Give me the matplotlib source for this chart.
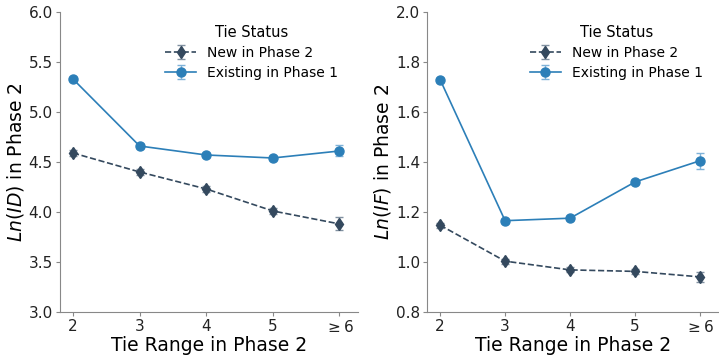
import matplotlib.pyplot as plt
import numpy as np

# tie range categories
tie_range = ['2', '3', '4', '5', r'$\geq6$']

# Ln(ID) panel
id_new = [4.59, 4.40, 4.23, 4.01, 3.88]
id_new_err = [0.03, 0.03, 0.03, 0.03, 0.065]
id_exist = [5.33, 4.66, 4.57, 4.54, 4.61]
id_exist_err = [0.02, 0.02, 0.02, 0.02, 0.055]

# Ln(IF) panel
if_new = [1.147, 1.003, 0.968, 0.962, 0.940]
if_new_err = [0.01, 0.01, 0.01, 0.01, 0.02]
if_exist = [1.730, 1.165, 1.175, 1.320, 1.405]
if_exist_err = [0.008, 0.008, 0.008, 0.008, 0.032]

C_NEW = '#34495e'
C_EXIST = '#2c7fb8'


def draw_panel(ax, new, new_err, exist, exist_err, ylim, yticks, ylabel, leg_x):
    x = np.arange(len(tie_range))
    ax.errorbar(x, new, yerr=new_err, color=C_NEW, linestyle='--', marker='d',
                markersize=6.5, linewidth=1.2, capsize=3, elinewidth=1,
                ecolor='#8090a0', label='New in Phase 2')
    ax.errorbar(x, exist, yerr=exist_err, color=C_EXIST, linestyle='-', marker='o',
                markersize=6.5, linewidth=1.2, capsize=3, elinewidth=1,
                ecolor='#7fb2d8', label='Existing in Phase 1')
    ax.set_xticks(x)
    ax.set_xticklabels(tie_range)
    ax.set_xlim(-0.2, 4.28)
    ax.set_ylim(*ylim)
    ax.set_yticks(yticks)
    ax.tick_params(labelsize=11, labelcolor='#222222', color='#888888',
                   length=3, pad=2)
    ax.set_xlabel('Tie Range in Phase 2', fontsize=13.5, labelpad=1)
    ax.set_ylabel(ylabel, fontsize=13.5, labelpad=2)
    for s in ['top', 'right']:
        ax.spines[s].set_visible(False)
    for s in ['left', 'bottom']:
        ax.spines[s].set_color('#888888')
    leg = ax.legend(title='Tie Status', frameon=False, fontsize=10,
                    title_fontsize=10.5, loc='upper right', bbox_to_anchor=(leg_x, 1.0),
                    handlelength=2.2, handletextpad=0.8, labelspacing=0.45)
    return leg


fig = plt.figure(figsize=(7.19, 3.56), dpi=100)
ax1 = fig.add_axes([0.083, 0.124, 0.415, 0.842])
ax2 = fig.add_axes([0.594, 0.124, 0.405, 0.842])

draw_panel(ax1, id_new, id_new_err, id_exist, id_exist_err, (3.0, 6.0),
           np.arange(3.0, 6.01, 0.5), r'$Ln(ID)$ in Phase 2', 0.975)
draw_panel(ax2, if_new, if_new_err, if_exist, if_exist_err, (0.8, 2.0),
           np.arange(0.8, 2.01, 0.2), r'$Ln(IF)$ in Phase 2', 0.99)

fig.savefig('out.png', dpi=100)
